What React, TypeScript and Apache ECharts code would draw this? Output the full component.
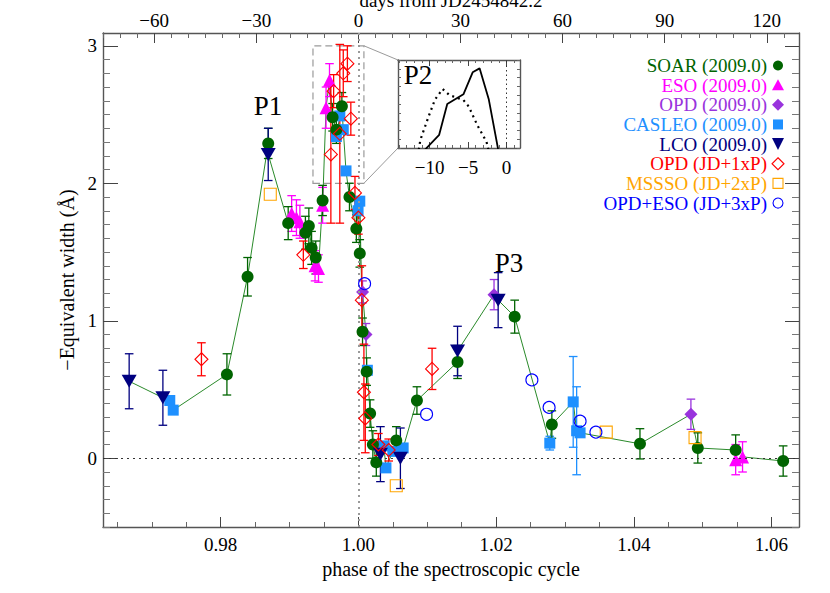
import React, { useEffect, useRef } from "react";
import * as echarts from "echarts";

const FONT = '"Liberation Serif", "Times New Roman", serif';

// ---- axis extents & tick labels ----
const PERIOD = 2022.7; // days per spectroscopic cycle
const PHASE_MIN = 0.9629;
const PHASE_MAX = 1.064;
const EW_MIN = -0.5;
const EW_MAX = 3.093;
const phaseTicks = [0.98, 1.0, 1.02, 1.04, 1.06];
const phaseMinorStep = 0.005;
const dayTicks = [-60, -30, 0, 30, 60, 90, 120];
const dayMinorStep = 5;
const ewTicks = [0, 1, 2, 3];
const ewMinorStep = 0.1;
const INSET_MIN = -14.1;
const INSET_MAX = 1.75;
const insetTicks = [-10, -5, 0];
const insetMinorStep = 1;

// ---- data: [phase, -EW (Å), error] ----
const soar = [
  [0.9809, 0.61, 0.15], [0.9839, 1.32, 0.14], [0.9869, 2.29, 0.11], [0.9898, 1.71, 0.12],
  [0.9923, 1.64, 0.12], [0.9928, 1.69, 0.13], [0.9932, 1.53, 0.12], [0.9938, 1.46, 0.12],
  [0.9948, 1.875, 0.11], [0.99625, 2.48, 0.1], [0.9968, 2.39, 0.1], [0.9976, 2.56, 0.1],
  [0.9987, 1.9, 0.1], [0.9997, 1.67, 0.1], [1.0002, 1.49, 0.1], [1.0006, 0.92, 0.1],
  [1.0012, 0.63, 0.1], [1.0017, 0.325, 0.1], [1.0021, 0.1, 0.1], [1.0026, -0.03, 0.1],
  [1.0055, 0.13, 0.1], [1.0085, 0.42, 0.1], [1.0144, 0.7, 0.12], [1.0227, 1.03, 0.12],
  [1.0281, 0.245, 0.1], [1.0409, 0.105, 0.11], [1.0493, 0.075, 0.11], [1.0548, 0.06, 0.11],
  [1.0617, -0.02, 0.11],
];
const eso = [
  [0.9903, 1.78, 0.13], [0.991, 1.75, 0.13], [0.9915, 1.72, 0.12], [0.9937, 1.4, 0.11],
  [0.9942, 1.38, 0.1], [0.9948, 1.84, 0.13], [0.9953, 2.55, 0.15], [0.9958, 2.75, 0.12],
  [1.0548, -0.01, 0.11], [1.0558, 0.01, 0.11],
];
const opd = [
  [1.0006, 1.21, 0.08], [1.0011, 0.9, 0.08], [1.0197, 1.19, 0.11], [1.0483, 0.32, 0.11],
];
const casleo = [
  [0.9726, 0.42, 0], [0.9731, 0.35, 0], [0.9968, 2.34, 0], [0.9973, 2.49, 0],
  [0.9978, 2.39, 0], [0.9982, 2.09, 0], [0.99995, 1.8, 0], [1.0002, 1.87, 0],
  [1.0013, 0.64, 0], [1.0037, 0.09, 0], [1.004, -0.07, 0], [1.005, 0.05, 0],
  [1.0065, 0.075, 0], [1.0278, 0.11, 0.05], [1.0312, 0.41, 0.33], [1.0317, 0.2, 0.32],
  [1.0322, 0.185, 0],
];
const lco = [
  [0.9667, 0.56, 0.2], [0.9716, 0.44, 0.2], [0.9869, 2.21, 0.19], [1.0032, 0.03, 0.2],
  [1.0061, 0.0, 0.22], [1.0144, 0.78, 0.18], [1.0203, 1.15, 0.2],
];
const opd1P = [
  [0.9772, 0.72, 0.12], [0.992, 1.48, 0.1], [0.996, 2.21, 0.5], [0.9964, 2.67, 0.12],
  [0.9973, 2.36, 0.65], [0.9978, 2.8, 0.17], [0.9984, 2.87, 0.13], [0.9989, 2.47, 0.12],
  [0.9995, 1.93, 0.12], [1.0, 1.75, 0.12], [1.0005, 1.15, 0.25], [1.0008, 0.48, 0.35],
  [1.001, 0.29, 0.25], [1.0029, 0.1, 0.08], [1.0044, 0.06, 0.08], [1.0107, 0.65, 0.15],
];
const mssso2P = [[0.9872, 1.92], [1.0055, -0.2], [1.036, 0.19], [1.0489, 0.15]];
const opdEso3P = [[1.0009, 1.27], [1.0099, 0.32], [1.0252, 0.57], [1.0277, 0.37], [1.0322, 0.27], [1.0345, 0.19]];

// inset: P2 profiles, x = days from JD2454842.2
const insetSolid = [[-10.6, -0.02], [-8.75, 0.15], [-7.7, 0.5], [-5.6, 0.61], [-4.4, 0.86], [-3.5, 0.905], [-2.3, 0.55], [-1.1, -0.01]];
const insetDotted = [[-11.4, -0.02], [-11.2, 0.09], [-10.2, 0.34], [-9.3, 0.55], [-8.3, 0.67], [-7.4, 0.6], [-5.6, 0.545], [-4.9, 0.47], [-3.8, 0.26], [-2.6, 0.07], [-2.35, -0.02]];

// zoom box (phase, EW)
const BOX_X = [0.9934, 1.0008];
const BOX_Y = [2.0, 3.0];

const INSET = { left: 398, top: 60, width: 122, height: 88 };

const legendItems = [
  { label: "SOAR (2009.0)", color: "#006400", shape: "circle", filled: true },
  { label: "ESO (2009.0)", color: "#ff00ff", shape: "triangle", filled: true },
  { label: "OPD (2009.0)", color: "#9933dd", shape: "diamond", filled: true },
  { label: "CASLEO (2009.0)", color: "#1e90ff", shape: "square", filled: true },
  { label: "LCO (2009.0)", color: "#000080", shape: "invtriangle", filled: true },
  { label: "OPD (JD+1xP)", color: "#ff0000", shape: "diamond", filled: false },
  { label: "MSSSO (JD+2xP)", color: "#ffa500", shape: "square", filled: false },
  { label: "OPD+ESO (JD+3xP)", color: "#0000ff", shape: "circle", filled: false },
];

function steps(min: number, max: number, step: number, exclude: number[] = []) {
  const out: number[] = [];
  for (let k = Math.ceil(min / step - 1e-9); k * step <= max + 1e-9; k++) {
    const v = Math.round(k * step * 1e6) / 1e6;
    if (!exclude.some((e) => Math.abs(e - v) < 1e-9)) out.push(v);
  }
  return out;
}
const minus = (v: number) => (v < 0 ? "\u2212" + Math.abs(v) : String(v));

function tickAxis(o: any) {
  const { major, length, labels, color, line, ...rest } = o;
  return {
    type: "value",
    axisLine: { show: !!line, onZero: false, lineStyle: { color: "#555", width: 1.4 } },
    axisTick: { show: true, inside: true, length, customValues: major, lineStyle: { color: color || "#444", width: 1 } },
    axisLabel: labels
      ? { show: true, customValues: major, fontFamily: FONT, fontSize: 19, color: "#000", ...labels }
      : { show: false },
    splitLine: { show: false },
    minorTick: { show: false },
    ...rest,
  };
}

function errSeries(data: number[][], color: string) {
  return {
    type: "custom",
    xAxisIndex: 0,
    yAxisIndex: 0,
    silent: true,
    z: 3,
    data: data.filter((d) => d[2] > 0),
    encode: { x: 0, y: 1 },
    renderItem: (_p: any, api: any) => {
      const x = api.value(0), y = api.value(1), e = api.value(2);
      const t = api.coord([x, y + e]);
      const b = api.coord([x, y - e]);
      const hw = 4.3;
      const st = { stroke: color, lineWidth: 1.3 };
      return {
        type: "group",
        children: [
          { type: "line", shape: { x1: t[0], y1: t[1], x2: b[0], y2: b[1] }, style: st },
          { type: "line", shape: { x1: t[0] - hw, y1: t[1], x2: t[0] + hw, y2: t[1] }, style: st },
          { type: "line", shape: { x1: b[0] - hw, y1: b[1], x2: b[0] + hw, y2: b[1] }, style: st },
        ],
      };
    },
  };
}

function scatterSeries(data: number[][], symbol: string, size: any, color: string, filled: boolean, z: number, rotate = 0) {
  return {
    type: "scatter",
    xAxisIndex: 0,
    yAxisIndex: 0,
    silent: true,
    z,
    symbol,
    symbolSize: size,
    symbolRotate: rotate,
    data: data.map((d) => [d[0], d[1]]),
    itemStyle: filled
      ? { color, opacity: 1 }
      : { color: "rgba(255,255,255,0)", borderColor: color, borderWidth: 1.1, opacity: 1 },
  };
}

function buildOption() {
  const dayMin = (PHASE_MIN - 1) * PERIOD;
  const dayMax = (PHASE_MAX - 1) * PERIOD;
  const connect = [...soar, ...eso, ...opd, ...casleo, ...lco]
    .map((d) => [d[0], d[1]])
    .sort((a, b) => a[0] - b[0]);

  return {
    animation: false,
    backgroundColor: "#fff",
    grid: [
      { left: 103, right: 31, top: 33, bottom: 66, containLabel: false, outerBoundsMode: "none" },
      { left: INSET.left, top: INSET.top, width: INSET.width, height: INSET.height, show: true, backgroundColor: "#fff", borderWidth: 0, containLabel: false, outerBoundsMode: "none" },
    ],
    xAxis: [
      tickAxis({
        gridIndex: 0, position: "bottom", min: PHASE_MIN, max: PHASE_MAX, major: phaseTicks, length: 10, line: true,
        labels: { formatter: (v: number) => v.toFixed(2), margin: 8 },
        name: "phase of the spectroscopic cycle", nameLocation: "middle", nameGap: 29,
        nameTextStyle: { fontFamily: FONT, fontSize: 20, color: "#000" },
      }),
      tickAxis({ gridIndex: 0, position: "bottom", min: PHASE_MIN, max: PHASE_MAX, major: steps(PHASE_MIN, PHASE_MAX, phaseMinorStep, phaseTicks), length: 5, color: "#666" }),
      tickAxis({
        gridIndex: 0, position: "top", min: dayMin, max: dayMax, major: dayTicks, length: 10, line: true,
        labels: { formatter: minus, margin: 3 },
      }),
      tickAxis({ gridIndex: 0, position: "top", min: dayMin, max: dayMax, major: steps(dayMin, dayMax, dayMinorStep, dayTicks), length: 5, color: "#666" }),
      tickAxis({
        gridIndex: 1, position: "bottom", min: INSET_MIN, max: INSET_MAX, major: insetTicks, length: 6, line: true,
        labels: { formatter: minus, margin: 10 },
      }),
      tickAxis({ gridIndex: 1, position: "bottom", min: INSET_MIN, max: INSET_MAX, major: steps(INSET_MIN, INSET_MAX, insetMinorStep, insetTicks), length: 3, color: "#666" }),
      tickAxis({ gridIndex: 1, position: "top", min: INSET_MIN, max: INSET_MAX, major: insetTicks, length: 6, line: true }),
      tickAxis({ gridIndex: 1, position: "top", min: INSET_MIN, max: INSET_MAX, major: steps(INSET_MIN, INSET_MAX, insetMinorStep, insetTicks), length: 3, color: "#666" }),
    ],
    yAxis: [
      tickAxis({
        gridIndex: 0, position: "left", min: EW_MIN, max: EW_MAX, major: ewTicks, length: 15, line: true,
        labels: { formatter: (v: number) => String(v), margin: 6 },
        name: "\u2212Equivalent width (\u00c5)", nameLocation: "middle", nameGap: 26, nameRotate: 90,
        nameTextStyle: { fontFamily: FONT, fontSize: 20, color: "#000" },
      }),
      tickAxis({ gridIndex: 0, position: "left", min: EW_MIN, max: EW_MAX, major: steps(EW_MIN, EW_MAX, ewMinorStep, ewTicks), length: 7, color: "#777" }),
      tickAxis({ gridIndex: 0, position: "right", min: EW_MIN, max: EW_MAX, major: ewTicks, length: 14, line: true }),
      tickAxis({ gridIndex: 0, position: "right", min: EW_MIN, max: EW_MAX, major: steps(EW_MIN, EW_MAX, ewMinorStep, ewTicks), length: 7, color: "#777" }),
      tickAxis({ gridIndex: 1, position: "left", min: 0, max: 1, major: steps(0, 1, 0.1), length: 3, line: true, color: "#666" }),
      tickAxis({ gridIndex: 1, position: "right", min: 0, max: 1, major: steps(0, 1, 0.1), length: 3, line: true, color: "#666" }),
    ],
    series: [
      {
        type: "line",
        xAxisIndex: 0,
        yAxisIndex: 0,
        silent: true,
        z: 2,
        data: connect,
        showSymbol: false,
        symbol: "none",
        lineStyle: { color: "#2a8a2a", width: 1 },
        markLine: {
          silent: true,
          symbol: ["none", "none"],
          label: { show: false },
          data: [
            { xAxis: 1.0, lineStyle: { type: [2, 4], color: "#999", width: 2 } },
            { yAxis: 0, lineStyle: { type: [2, 4], color: "#333", width: 1 } },
          ],
        },
        markArea: {
          silent: true,
          label: { show: false },
          itemStyle: { color: "rgba(0,0,0,0)", borderColor: "#9a9a9a", borderWidth: 1.2, borderType: [7, 4] },
          data: [[{ coord: [BOX_X[0], BOX_Y[0]] }, { coord: [BOX_X[1], BOX_Y[1]] }]],
        },
      },
      errSeries(casleo, "#1e90ff"),
      errSeries(eso, "#ff00ff"),
      errSeries(opd, "#9933dd"),
      errSeries(soar, "#006400"),
      errSeries(lco, "#000080"),
      errSeries(opd1P, "#ff0000"),
      scatterSeries(casleo, "rect", 11, "#1e90ff", true, 4),
      scatterSeries(eso, "triangle", 13, "#ff00ff", true, 4),
      scatterSeries(opd, "diamond", 13, "#9933dd", true, 4),
      scatterSeries(soar, "circle", 12, "#006400", true, 5),
      scatterSeries(lco, "triangle", [15, 13], "#000080", true, 5, 180),
      scatterSeries(opd1P, "diamond", 13, "#ff0000", false, 6),
      scatterSeries(mssso2P, "rect", 12, "#ffa500", false, 6),
      scatterSeries(opdEso3P, "circle", 12, "#0000ff", false, 6),
      {
        type: "line", xAxisIndex: 4, yAxisIndex: 4, silent: true, data: insetSolid, symbol: "none", showSymbol: false,
        lineStyle: { color: "#000", width: 1.8 },
        markLine: {
          silent: true, symbol: ["none", "none"], label: { show: false },
          data: [{ xAxis: 0, lineStyle: { type: [1.5, 3], color: "#333", width: 1 } }],
        },
      },
      {
        type: "line", xAxisIndex: 4, yAxisIndex: 4, silent: true, data: insetDotted, symbol: "none", showSymbol: false,
        lineStyle: { color: "#000", width: 2.2, type: [2, 4] },
      },
    ],
  };
}

function legendGraphics() {
  const els: any[] = [];
  const tx = 767, mx = 778, y0 = 65.5, dy = 19.65;
  legendItems.forEach((it, i) => {
    const cy = y0 + i * dy;
    els.push({
      type: "text", x: tx, y: cy, silent: true,
      style: { text: it.label, fill: it.color, fontFamily: FONT, fontSize: 19, textAlign: "right", textVerticalAlign: "middle", align: "right", verticalAlign: "middle" },
    });
    const st = it.filled ? { fill: it.color } : { fill: "none", stroke: it.color, lineWidth: 1.1 };
    if (it.shape === "circle") els.push({ type: "circle", silent: true, shape: { cx: mx, cy, r: 5 }, style: st });
    if (it.shape === "square") els.push({ type: "rect", silent: true, shape: { x: mx - 5, y: cy - 5, width: 10, height: 10 }, style: st });
    if (it.shape === "triangle") els.push({ type: "polygon", silent: true, shape: { points: [[mx, cy - 6], [mx + 6, cy + 5], [mx - 6, cy + 5]] }, style: st });
    if (it.shape === "invtriangle") els.push({ type: "polygon", silent: true, shape: { points: [[mx - 6, cy - 6], [mx + 6, cy - 6], [mx, cy + 6]] }, style: st });
    if (it.shape === "diamond") els.push({ type: "polygon", silent: true, shape: { points: [[mx, cy - 6], [mx + 6, cy], [mx, cy + 6], [mx - 6, cy]] }, style: st });
  });
  return els;
}

function label(text: string, x: number, y: number, size: number) {
  return {
    type: "text", x, y, silent: true,
    style: { text, fill: "#000", fontFamily: FONT, fontSize: size, textAlign: "center", textVerticalAlign: "middle", align: "center", verticalAlign: "middle" },
  };
}

export default function App() {
  const ref = useRef<HTMLDivElement>(null);
  useEffect(() => {
    if (!ref.current) return;
    const chart = echarts.init(ref.current, null, { renderer: "svg" });
    chart.setOption(buildOption() as any);
    const tr = chart.convertToPixel({ xAxisIndex: 0, yAxisIndex: 0 } as any, [BOX_X[1], BOX_Y[1]]) as number[];
    const br = chart.convertToPixel({ xAxisIndex: 0, yAxisIndex: 0 } as any, [BOX_X[1], BOX_Y[0]]) as number[];
    const connStyle = { stroke: "#9a9a9a", lineWidth: 1 };
    chart.setOption({
      graphic: {
        elements: [
          { type: "line", silent: true, shape: { x1: tr[0], y1: tr[1], x2: INSET.left, y2: INSET.top }, style: connStyle },
          { type: "line", silent: true, shape: { x1: br[0], y1: br[1], x2: INSET.left, y2: INSET.top + INSET.height }, style: connStyle },
          label("days from JD2454842.2", 451, 0, 19),
          label("P1", 268, 106, 27),
          label("P3", 509, 263, 27),
          label("P2", 418, 75, 27),
          ...legendGraphics(),
        ],
      },
    } as any);
    return () => chart.dispose();
  }, []);
  return <div ref={ref} style={{ position: "absolute", left: 0, top: 0, width: 830, height: 593, background: "#fff" }} />;
}
